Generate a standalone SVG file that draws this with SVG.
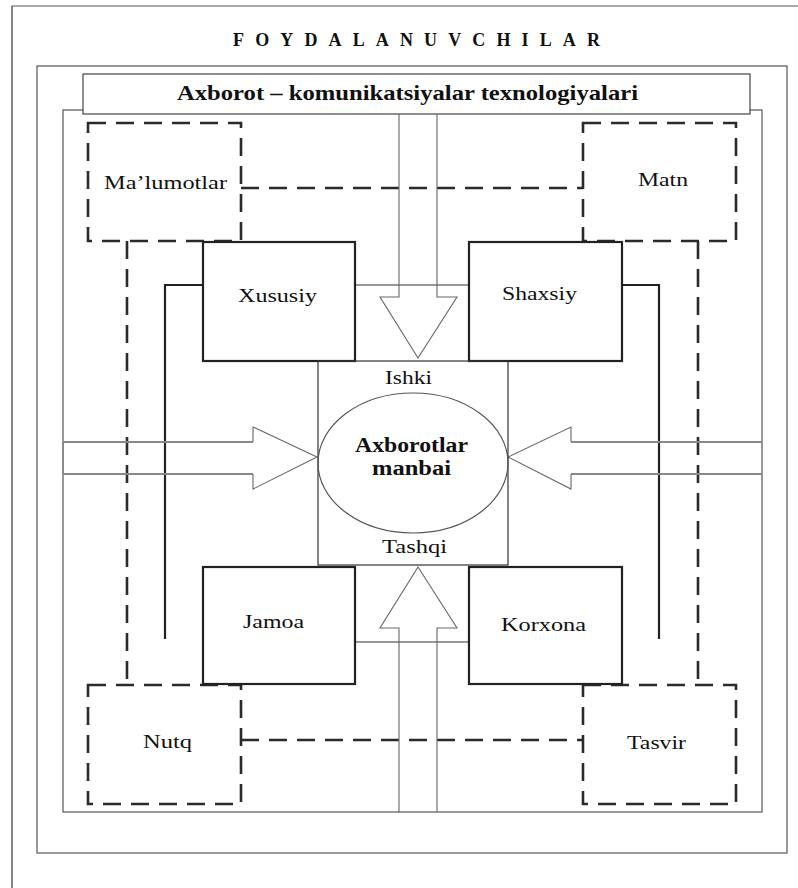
<svg xmlns="http://www.w3.org/2000/svg" width="798" height="888" viewBox="0 0 798 888">
  <style>
    .frame { fill: none; stroke: #555; stroke-width: 1.2; }
    .solid { fill: #fff; stroke: #222; stroke-width: 2.2; }
    .thin { fill: none; stroke: #333; stroke-width: 1.2; }
    .thick { fill: none; stroke: #222; stroke-width: 2.2; }
    .dash { fill: none; stroke: #2a2a2a; stroke-width: 2.6; stroke-dasharray: 18 10; }
    .arrow { fill: none; stroke: #666; stroke-width: 1.1; }
    .shaft { fill: none; stroke: #888; stroke-width: 1.8; }
    .lbl { font-family: "Liberation Serif", "Times New Roman", serif; font-size: 19px; fill: #111; }
    .bold { font-family: "Liberation Serif", "Times New Roman", serif; font-weight: bold; fill: #111; }
  </style>

  <!-- page border -->
  <line x1="12" y1="6" x2="798" y2="6" stroke="#aaa" stroke-width="2"/>
  <line x1="12" y1="6" x2="12" y2="888" stroke="#333" stroke-width="1.2"/>

  <!-- outer and inner frames -->
  <rect class="frame" x="37" y="66" width="750" height="787"/>
  <rect class="frame" x="63" y="110" width="699" height="702"/>

  <text class="bold" x="233" y="46" font-size="18" textLength="367" lengthAdjust="spacing">FOYDALANUVCHILAR</text>

  <g id="ict-bar">
    <rect x="83" y="74" width="667" height="40" fill="#fff" stroke="#444" stroke-width="1.2"/>
    <text class="bold" x="177" y="100" font-size="21" textLength="461" lengthAdjust="spacingAndGlyphs">Axborot – komunikatsiyalar texnologiyalari</text>
  </g>

  <g id="connectors">
    <!-- dashed links between data kinds -->
    <line class="dash" x1="241" y1="188" x2="583" y2="188"/>
    <line class="dash" x1="241" y1="740" x2="583" y2="740"/>
    <line class="dash" x1="127" y1="241" x2="127" y2="685"/>
    <line class="dash" x1="698" y1="241" x2="698" y2="685"/>

    <!-- solid links between source groups -->
    <line class="thin" x1="355" y1="285" x2="469" y2="285"/>
    <line class="thin" x1="355" y1="642" x2="469" y2="642"/>
    <polyline class="thick" points="203,285 165,285 165,639"/>
    <polyline class="thick" points="622,285 659,285 659,639"/>

    <!-- down arrow (internal) -->
    <polyline class="arrow" points="399,114 399,297 380,297 418,358 457,297 437,297 437,114"/>
    <!-- up arrow (external) -->
    <polyline class="arrow" points="399,812 399,628 380,628 418,567 457,628 437,628 437,812"/>
    <!-- right-pointing arrow -->
    <line class="shaft" x1="63" y1="442" x2="253" y2="442"/>
    <line class="shaft" x1="63" y1="474" x2="253" y2="474"/>
    <line class="shaft" x1="63" y1="442" x2="63" y2="474"/>
    <polyline class="arrow" points="253,442 253,427 317,457 253,489 253,474"/>
    <!-- left-pointing arrow -->
    <line class="shaft" x1="762" y1="442" x2="571" y2="442"/>
    <line class="shaft" x1="762" y1="474" x2="571" y2="474"/>
    <polyline class="arrow" points="571,442 571,427 508,457 571,489 571,474"/>
  </g>

  <g id="malumotlar">
    <rect class="dash" x="88" y="123" width="153" height="118"/>
    <text class="lbl" x="104" y="189" textLength="123" lengthAdjust="spacingAndGlyphs">Ma’lumotlar</text>
  </g>
  <g id="matn">
    <rect class="dash" x="583" y="123" width="153" height="118"/>
    <text class="lbl" x="638" y="186" textLength="50" lengthAdjust="spacingAndGlyphs">Matn</text>
  </g>
  <g id="nutq">
    <rect class="dash" x="88" y="685" width="153" height="119"/>
    <text class="lbl" x="143" y="748" textLength="49" lengthAdjust="spacingAndGlyphs">Nutq</text>
  </g>
  <g id="tasvir">
    <rect class="dash" x="583" y="685" width="153" height="119"/>
    <text class="lbl" x="627" y="749" textLength="59" lengthAdjust="spacingAndGlyphs">Tasvir</text>
  </g>

  <g id="xususiy">
    <rect class="solid" x="203" y="242" width="152" height="119" fill="none"/>
    <text class="lbl" x="238" y="302" textLength="79" lengthAdjust="spacingAndGlyphs">Xususiy</text>
  </g>
  <g id="shaxsiy">
    <rect class="solid" x="469" y="242" width="153" height="119" fill="none"/>
    <text class="lbl" x="502" y="300" textLength="75" lengthAdjust="spacingAndGlyphs">Shaxsiy</text>
  </g>
  <g id="jamoa">
    <rect class="solid" x="203" y="567" width="152" height="117" fill="none"/>
    <text class="lbl" x="243" y="628" textLength="61" lengthAdjust="spacingAndGlyphs">Jamoa</text>
  </g>
  <g id="korxona">
    <rect class="solid" x="469" y="567" width="153" height="117" fill="none"/>
    <text class="lbl" x="501" y="631" textLength="85" lengthAdjust="spacingAndGlyphs">Korxona</text>
  </g>

  <g id="source">
    <rect x="318" y="361" width="190" height="204" fill="none" stroke="#333" stroke-width="1.2"/>
    <ellipse cx="413" cy="463" rx="95" ry="70" fill="none" stroke="#555" stroke-width="1.2"/>
    <text class="lbl" x="385" y="384" textLength="47" lengthAdjust="spacingAndGlyphs">Ishki</text>
    <text class="bold" x="355" y="452" font-size="20" textLength="113" lengthAdjust="spacingAndGlyphs">Axborotlar</text>
    <text class="bold" x="372" y="475" font-size="20" textLength="79" lengthAdjust="spacingAndGlyphs">manbai</text>
    <text class="lbl" x="382" y="553" textLength="65" lengthAdjust="spacingAndGlyphs">Tashqi</text>
  </g>
</svg>
